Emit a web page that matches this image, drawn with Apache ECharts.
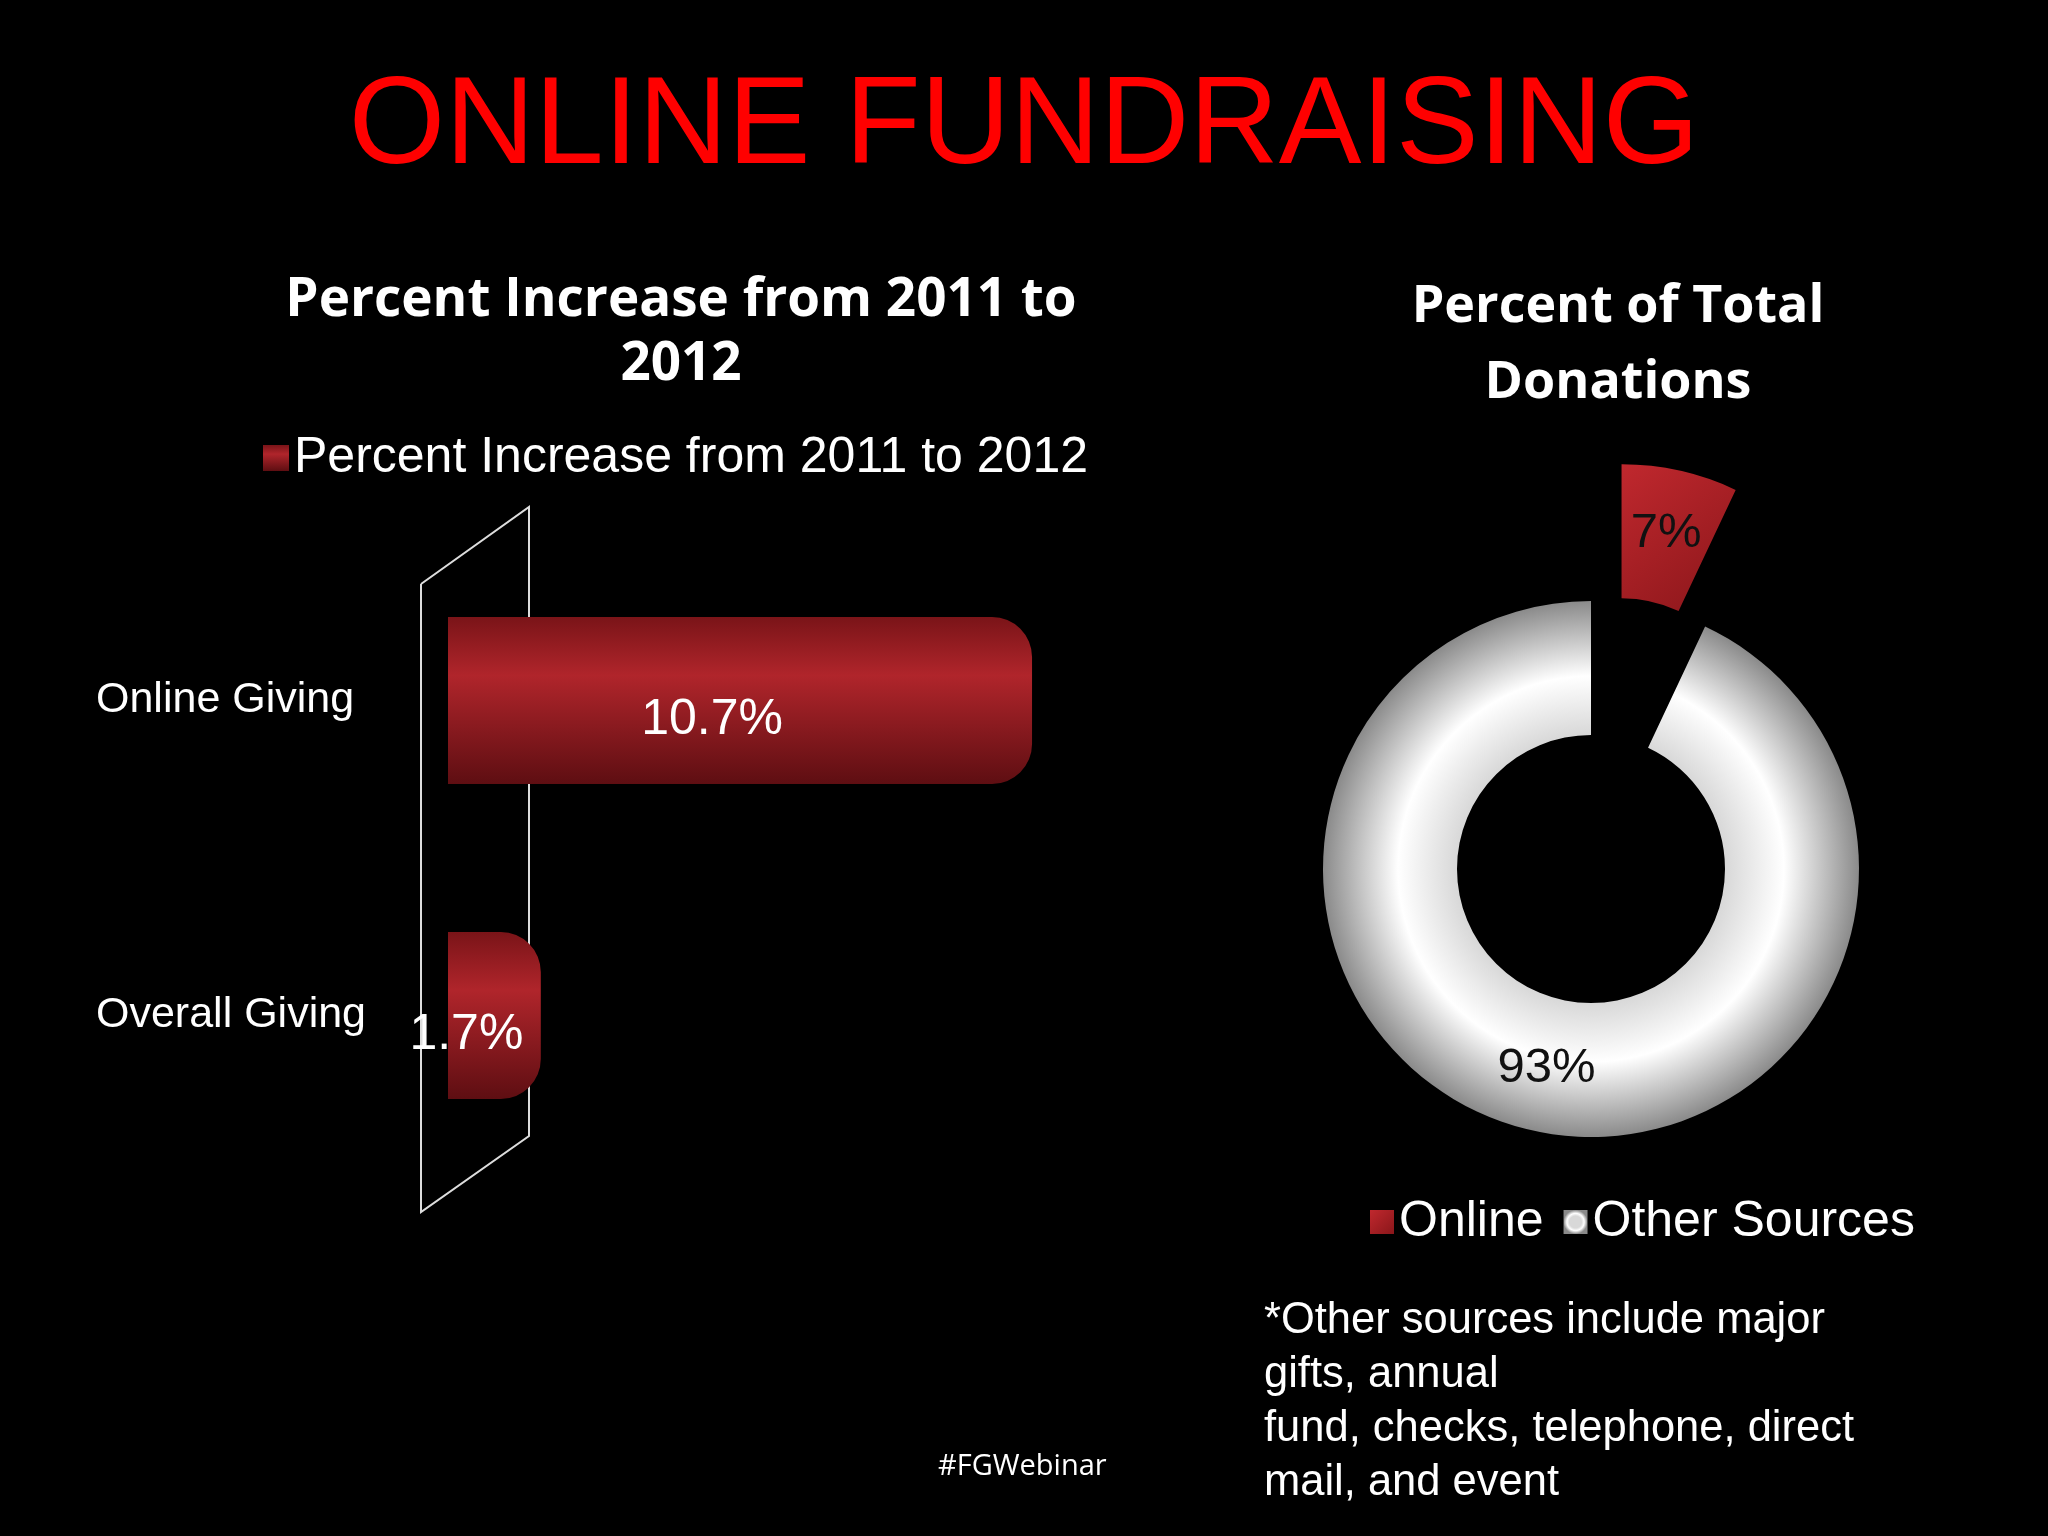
<!DOCTYPE html>
<html><head><meta charset="utf-8">
<script src="https://cdn.jsdelivr.net/npm/echarts@6/dist/echarts.min.js"></script>
<style>html,body{margin:0;background:#000}#c{width:2048px;height:1536px}</style>
</head><body><div id="c"></div>
<script>
const categories = ['Overall Giving', 'Online Giving'];
const increaseValues = [1.7, 10.7];
const pieNames = ['Online', 'Other Sources'];
const pieValues = [7, 93];

const chart = echarts.init(document.getElementById('c'));
const barGrad = new echarts.graphic.LinearGradient(0,0,0,1,[
  {offset:0,color:'#7a1418'},{offset:0.35,color:'#b0252b'},{offset:1,color:'#5e0e12'}]);
const F = 'Liberation Sans, Arial, sans-serif';
chart.setOption({
  backgroundColor:'#000',
  title:[
    {text:'ONLINE FUNDRAISING',left:'center',top:62,textStyle:{color:'#ff0000',fontSize:124,fontWeight:'normal',fontFamily:F}},
    {text:'Percent Increase from 2011 to\n2012',left:676,textAlign:'center',top:264,textStyle:{color:'#fff',fontSize:53,fontWeight:'bold',lineHeight:64,fontFamily:'Open Sans'}},
    {text:'Percent of Total\nDonations',left:1613,textAlign:'center',top:264,textStyle:{color:'#fff',fontSize:52,fontWeight:'bold',lineHeight:76,fontFamily:'Open Sans'}}
  ],
  legend:[
    {data:['Percent Increase from 2011 to 2012'],left:258,top:428,icon:'rect',itemWidth:26,itemHeight:26,itemGap:10,
     textStyle:{color:'#fff',fontSize:50,fontFamily:F}},
    {data:pieNames,left:1365,top:1192,icon:'rect',itemWidth:24,itemHeight:24,itemGap:20,
     textStyle:{color:'#fff',fontSize:50,fontFamily:F}}
  ],
  grid:{left:448,top:543,width:655,height:630},
  xAxis:{type:'value',min:0,max:12,show:false},
  yAxis:{type:'category',data:categories,axisLine:{show:false},axisTick:{show:false},
    axisLabel:{color:'#fff',fontSize:43,fontFamily:F,margin:50,align:'left',padding:[90,0,0,-302]}},
  series:[
    {type:'bar',name:'Percent Increase from 2011 to 2012',data:increaseValues,barWidth:167,
     itemStyle:{color:barGrad,borderRadius:[0,40,40,0]},
     label:{show:true,position:'inside',formatter:'{c}%',color:'#fff',fontSize:50,fontFamily:F,offset:[-28,20]}},
    {type:'pie',center:[1591,869],radius:[134,268],startAngle:90,selectedMode:'single',selectedOffset:140,
     data:[
       {name:pieNames[0],value:pieValues[0],selected:true,itemStyle:{color:new echarts.graphic.LinearGradient(0,0,1,1,[{offset:0,color:'#c0282e'},{offset:1,color:'#8a161a'}])}},
       {name:pieNames[1],value:pieValues[1],itemStyle:{color:new echarts.graphic.RadialGradient(0.5,0.5,0.5,[
         {offset:0.5,color:'#d8d8d8'},{offset:0.72,color:'#ffffff'},{offset:1,color:'#8a8a8a'}])}}
     ],
     label:{show:true,position:'inside',formatter:'{d}%',color:'#111',fontSize:49,fontFamily:F},
     labelLine:{show:false}}
  ],
  graphic:[
    {type:'polyline',shape:{points:[[421,584],[529,507],[529,1136],[421,1212],[421,584]]},z:-1,
     style:{stroke:'#ddd',lineWidth:2,fill:'none'}},
    {type:'text',left:1264,top:1294,style:{text:'*Other sources include major\ngifts, annual\nfund, checks, telephone, direct\nmail, and event',fill:'#fff',fontSize:43.5,lineHeight:54,fontFamily:F}},
    {type:'text',left:938,top:1452,style:{text:'#FGWebinar',fill:'#fff',fontSize:29,fontFamily:'Open Sans'}}
  ]
});
</script></body></html>
